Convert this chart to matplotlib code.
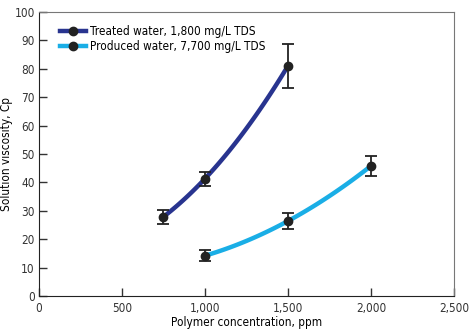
import numpy as np
import matplotlib
matplotlib.use("Agg")
import matplotlib.pyplot as plt

plt.rcParams['font.family'] = ['DejaVu Sans']
plt.rcParams['font.stretch'] = 'condensed'

# data
treated_x = [750, 1000, 1500]
treated_y = [27.9, 41.3, 81.0]
treated_err = [2.4, 2.4, 7.7]

produced_x = [1000, 1500, 2000]
produced_y = [14.2, 26.4, 45.8]
produced_err = [2.0, 2.7, 3.6]

labels = ["Treated water, 1,800 mg/L TDS", "Produced water, 7,700 mg/L TDS"]
colors = ["#28348f", "#1aaee6"]

fig = plt.figure(figsize=(4.73, 3.33), dpi=100)
ax = fig.add_axes([0.0825, 0.111, 0.877, 0.853])

for xs, ys, errs, lab, col in [(treated_x, treated_y, treated_err, labels[0], colors[0]),
                               (produced_x, produced_y, produced_err, labels[1], colors[1])]:
    # smooth curve through the points
    coef = np.polyfit(xs, ys, 2)
    xx = np.linspace(xs[0], xs[-1], 100)
    ax.plot(xx, np.polyval(coef, xx), color=col, lw=3.2, solid_capstyle='round', zorder=2)
    ax.errorbar(xs, ys, yerr=errs, fmt='o', color='#222222', ms=6, ecolor='#222222',
                elinewidth=1.3, capsize=4, capthick=1.3, zorder=3)
    ax.plot([], [], color=col, lw=3.2, marker='o', mfc='#222222', mec='#222222', ms=6, label=lab)

ax.set_xlim(0, 2500)
ax.set_ylim(0, 100)
ax.set_xticks([0, 500, 1000, 1500, 2000, 2500])
ax.set_xticklabels(["0", "500", "1,000", "1,500", "2,000", "2,500"])
ax.set_yticks(range(0, 101, 10))
ax.tick_params(direction='in', length=6, width=1, labelsize=8.5, colors='#333333')
ax.tick_params(axis='y', pad=3)
ax.tick_params(axis='x', pad=4)
ax.set_xlabel("Polymer concentration, ppm", fontsize=8.5, labelpad=1)
ax.set_ylabel("Solution viscosity, Cp", fontsize=8.5, labelpad=1)

ax.spines['left'].set_color('#222222')
ax.spines['bottom'].set_color('#222222')
ax.spines['top'].set_color('#777777')
ax.spines['right'].set_color('#777777')

ax.legend(loc='upper left', bbox_to_anchor=(0.04, 0.97), frameon=False, fontsize=8.5,
          handlelength=2.2, handletextpad=0.3, labelspacing=0.15, borderaxespad=0)

fig.savefig("out.png", dpi=100)
